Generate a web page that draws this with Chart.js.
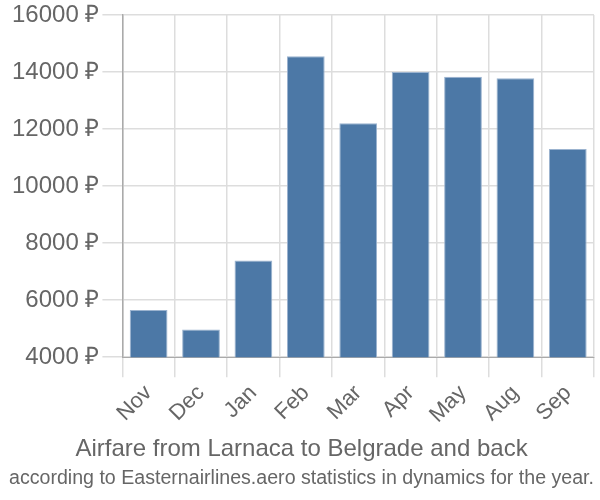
<html lang="en">
<head>
    <meta charset="UTF-8">
    <title>Airfare chart</title>
    <style>
        body { margin: 0; background: #fff; }
        #chart-container { width: 600px; height: 500px; }
    </style>
</head>
<body>
    <div id="chart-container">
        <canvas id="bar-chart"></canvas>
    </div>
    <script src="https://cdn.jsdelivr.net/npm/chart.js"></script>
    <script>
        // data
        const months = ['Nov', 'Dec', 'Jan', 'Feb', 'Mar', 'Apr', 'May', 'Aug', 'Sep'];
        const prices = [5650, 4970, 7390, 14550, 12200, 14000, 13830, 13780, 11300];
        const yTicks = [4000, 6000, 8000, 10000, 12000, 14000, 16000];

        const ctx = document.getElementById('bar-chart').getContext('2d');
        const font = 'Liberation Sans, Arial, sans-serif';

        // both captions sit under the chart; the subtitle box lands nearer the axis,
        // so it carries the big line and the title box carries the small one
        new Chart(ctx, {
            type: 'bar',
            data: {
                labels: months,
                datasets: [{
                    data: prices,
                    backgroundColor: '#4c78a6',
                    borderColor: '#9bb3cf',
                    borderWidth: 1,
                    barPercentage: 0.8,
                    categoryPercentage: 0.9
                }]
            },
            options: {
                responsive: true,
                maintainAspectRatio: false,
                animation: false,
                layout: { padding: { left: 9, right: 6, top: 1, bottom: 10 } },
                plugins: {
                    legend: { display: false },
                    tooltip: { enabled: false },
                    subtitle: {
                        display: true,
                        position: 'bottom',
                        text: 'Airfare from Larnaca to Belgrade and back',
                        color: '#666',
                        font: { family: font, size: 24, weight: 'normal' },
                        padding: { top: 4, bottom: 0 }
                    },
                    title: {
                        display: true,
                        position: 'bottom',
                        text: 'according to Easternairlines.aero statistics in dynamics for the year.',
                        color: '#666',
                        font: { family: font, size: 20, weight: 'normal' },
                        padding: { top: 2, bottom: 0 }
                    }
                },
                scales: {
                    x: {
                        grid: { color: '#dddddd', lineWidth: 1.5, tickLength: 20, offset: true },
                        border: { color: '#aaaaaa' },
                        ticks: {
                            color: '#666',
                            font: { family: font, size: 22 },
                            maxRotation: 45,
                            minRotation: 45
                        }
                    },
                    y: {
                        min: yTicks[0],
                        max: yTicks[yTicks.length - 1],
                        grid: { color: '#dddddd', lineWidth: 1.5, tickLength: 20 },
                        border: { color: '#aaaaaa', width: 1.5 },
                        afterBuildTicks: axis => { axis.ticks = yTicks.map(v => ({ value: v })); },
                        ticks: {
                            color: '#666',
                            font: { family: font, size: 24, lineHeight: 1 },
                            padding: 3,
                            callback: v => v + ' ₽'
                        }
                    }
                }
            }
        });
    </script>
</body>
</html>
